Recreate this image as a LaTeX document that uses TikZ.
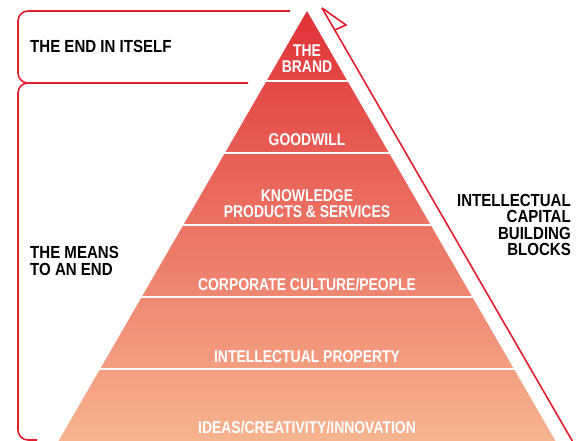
\documentclass[tikz,border=0pt]{standalone}
\usepackage{fontspec}
\setmainfont{Liberation Sans}[FakeStretch=0.86]
\newfontfamily\bloquefont{Liberation Sans}[FakeStretch=0.82]

\definecolor{rojo}{RGB}{226,30,45}
\definecolor{cima}{RGB}{224,50,56}
\definecolor{medio}{RGB}{234,120,88}
\definecolor{base}{RGB}{246,180,144}

\begin{document}
\begin{tikzpicture}[x=1pt, y=-1pt,
	borde/.style={draw=rojo, line width=1.6pt, rounded corners=10pt},
	linea/.style={draw=rojo, line width=1.6pt},
	bloque/.style={text=white, font=\bloquefont\bfseries\fontsize{17}{16}\selectfont, align=center, anchor=base, inner sep=0pt},
	etiqueta/.style={text=black, font=\bfseries\fontsize{17.5}{16.5}\selectfont, inner sep=0pt}]
	\useasboundingbox (0,0) rectangle (586,441);
	
	% Piramide
	\shade[top color=cima, middle color=medio, bottom color=base] (307,11) -- (58.5,441) -- (555.5,441) -- cycle;
	\foreach \y in {81,153,225,297,369}
		\draw[white, line width=1.6pt] ({307-0.578*(\y-11)-2},\y) -- ({307+0.578*(\y-11)+2},\y);
	
	\node[bloque] (marca) at (307,73) {THE\\BRAND};
	\node[bloque] (goodwill) at (307,146) {GOODWILL};
	\node[bloque] (saber) at (307,217) {KNOWLEDGE\\PRODUCTS \& SERVICES};
	\node[bloque] (cultura) at (307,290) {CORPORATE CULTURE/PEOPLE};
	\node[bloque] (propiedad) at (307,362) {INTELLECTUAL PROPERTY};
	\node[bloque] (ideas) at (307,433) {IDEAS/CREATIVITY/INNOVATION};
	
	% Banderin y borde derecho
	\draw[linea] (322,8) -- (346,25) -- (334.7,30);
	\draw[linea] (322,8) -- (572.3,441);
	
	% Llaves de la izquierda
	\draw[borde] (290,11) -- (18,11) -- (18,83) -- (248,83);
	\draw[borde] (60,83) -- (18,83) -- (18,440) -- (37,440);
	
	\node[etiqueta, anchor=west] (fin) at (30,46) {THE END IN ITSELF};
	\node[etiqueta, anchor=west, align=left] (medios) at (30,261) {THE MEANS\\TO AN END};
	\node[etiqueta, anchor=east, align=right] (bloques) at (571,225) {INTELLECTUAL\\CAPITAL\\BUILDING\\BLOCKS};
\end{tikzpicture}
\end{document}
